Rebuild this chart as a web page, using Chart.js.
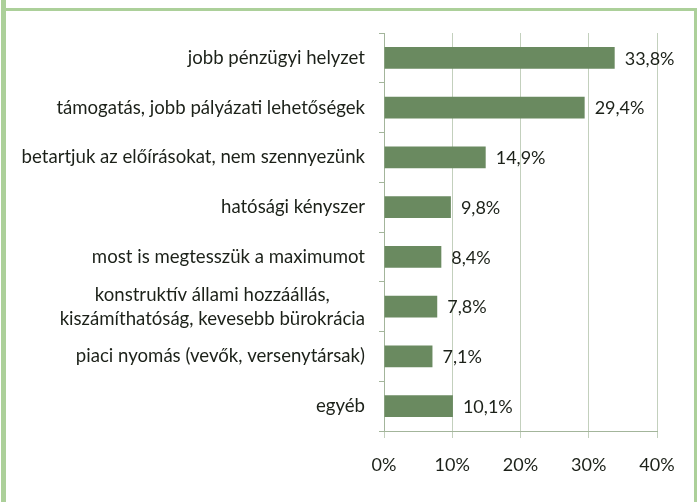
<!DOCTYPE html>
<html>
<head>
<meta charset="utf-8">
<script src="https://cdn.jsdelivr.net/npm/chart.js@4/dist/chart.umd.min.js"></script>
<style>
  html, body { margin: 0; padding: 0; background: #fff; }
  #wrap { width: 700px; height: 502px; position: relative; }
</style>
</head>
<body>
<div id="wrap"><canvas id="chart" width="700" height="502"></canvas></div>
<script>
// kategóriák (felülről lefelé)
const categories = [
  "jobb pénzügyi helyzet",
  "támogatás, jobb pályázati lehetőségek",
  "betartjuk az előírásokat, nem szennyezünk",
  "hatósági kényszer",
  "most is megtesszük a maximumot",
  ["konstruktív állami hozzáállás,", "kiszámíthatóság, kevesebb bürokrácia"],
  "piaci nyomás (vevők, versenytársak)",
  "egyéb"
];
const values = [33.8, 29.4, 14.9, 9.8, 8.4, 7.8, 7.1, 10.1];
const xTicks = [0, 10, 20, 30, 40];

const BAR = "#6a8a60";
const TEXT = "#1c2119";
const FRAME = "#acd09a";
const FONT = "Lato, 'Open Sans', sans-serif";

// keret + fehér háttér
const framePlugin = {
  id: "frame",
  beforeDraw(chart) {
    const c = chart.ctx;
    c.save();
    c.fillStyle = "#fff";
    c.fillRect(0, 0, chart.width, chart.height);
    c.fillStyle = FRAME;
    c.fillRect(1, 0, 5, chart.height);
    c.fillRect(6, 8, 689, 3);
    c.fillRect(694, 8, 3, chart.height - 8);
    c.restore();
  }
};

// kategória feliratok (többsoros középre igazítva)
const catLabels = {
  id: "catLabels",
  afterDraw(chart) {
    const c = chart.ctx;
    const y = chart.scales.y;
    const right = chart.chartArea.left - 19;
    c.save();
    c.font = "18.6px " + FONT;
    c.fillStyle = TEXT;
    c.textBaseline = "middle";
    categories.forEach((lab, i) => {
      const cy = y.getPixelForValue(i);
      if (Array.isArray(lab)) {
        const w = Math.max(...lab.map(s => c.measureText(s).width));
        const cx = right - w / 2;
        c.textAlign = "center";
        const lh = 24;
        lab.forEach((s, j) => {
          c.fillText(s, cx, cy + (j - (lab.length - 1) / 2) * lh);
        });
      } else {
        c.textAlign = "right";
        c.fillText(lab, right, cy);
      }
    });
    c.restore();
  }
};

// értékcímkék a sávok mellett
const valueLabels = {
  id: "valueLabels",
  afterDatasetsDraw(chart) {
    const c = chart.ctx;
    const meta = chart.getDatasetMeta(0);
    c.save();
    c.font = "18px " + FONT;
    c.fillStyle = TEXT;
    c.textAlign = "left";
    c.textBaseline = "middle";
    meta.data.forEach((bar, i) => {
      c.fillText(values[i].toFixed(1).replace(".", ",") + "%", bar.x + 10, bar.y + 1);
    });
    c.restore();
  }
};

new Chart(document.getElementById("chart"), {
  type: "bar",
  data: {
    labels: categories,
    datasets: [{
      data: values,
      backgroundColor: BAR,
      borderWidth: 0,
      categoryPercentage: 1,
      barPercentage: 0.44
    }]
  },
  options: {
    indexAxis: "y",
    responsive: false,
    animation: false,
    devicePixelRatio: 1,
    layout: { padding: { top: 33, right: 43, left: 0, bottom: 0 } },
    plugins: {
      legend: { display: false },
      tooltip: { enabled: false }
    },
    scales: {
      x: {
        min: 0,
        max: 40,
        afterBuildTicks(scale) {
          scale.ticks = xTicks.map(v => ({ value: v }));
        },
        ticks: {
          callback: v => v + "%",
          color: TEXT,
          font: { family: FONT, size: 18 },
          padding: 16
        },
        grid: {
          color: "#c3d0bd",
          tickLength: 7,
          lineWidth: 1
        },
        border: { color: "#a3b59b" },
        afterFit(scale) { scale.height = 502 - 431; }
      },
      y: {
        ticks: { display: false },
        grid: {
          drawOnChartArea: false,
          drawTicks: true,
          tickLength: 5,
          offset: true,
          color: "#a3b59b"
        },
        border: { color: "#a3b59b" },
        afterFit(scale) { scale.width = 384; }
      }
    }
  },
  plugins: [framePlugin, catLabels, valueLabels]
});
</script>
</body>
</html>
